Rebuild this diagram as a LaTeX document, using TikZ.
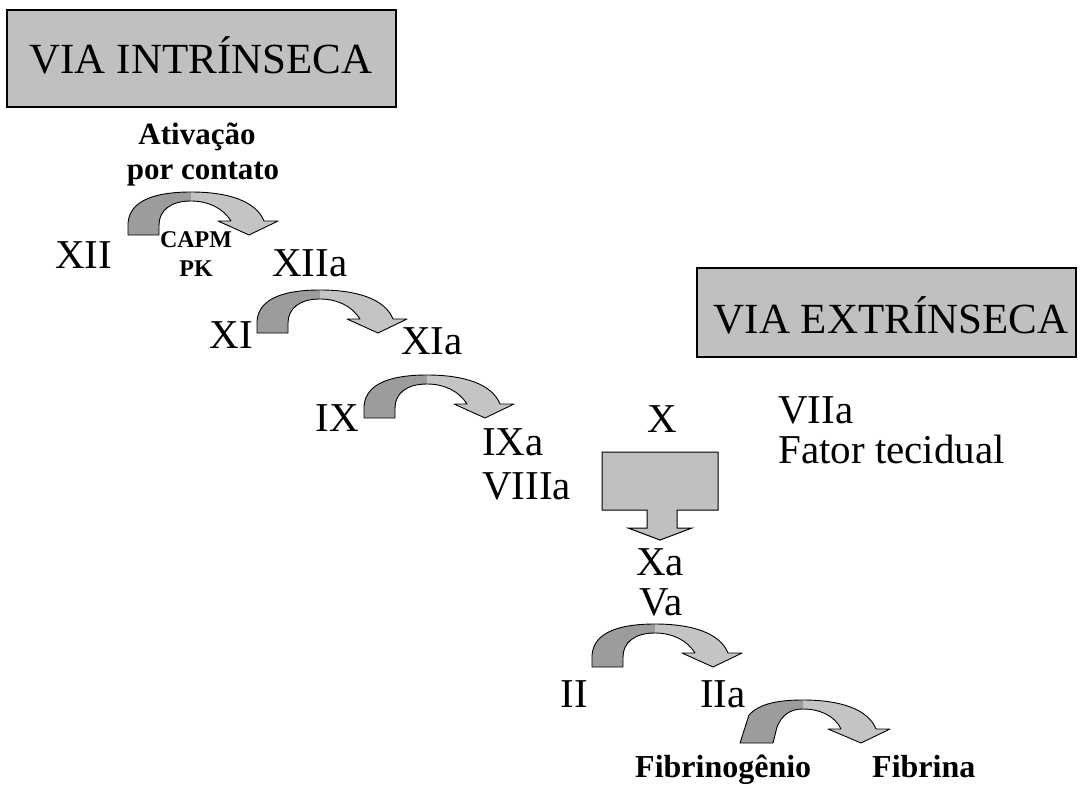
\documentclass[tikz,border=0pt]{standalone}
\usepackage{fontspec}
\setmainfont{Liberation Serif}
\newfontfamily\tnr{Liberation Serif}
\definecolor{boxgray}{HTML}{C0C0C0}
\definecolor{darkpart}{HTML}{9C9C9C}
\definecolor{lightpart}{HTML}{C4C4C4}
\tikzset{
  lbl/.style={font=\tnr\fontsize{41}{48}\selectfont, inner sep=0pt, anchor=base west},
  lble/.style={font=\tnr\fontsize{41}{48}\selectfont, inner sep=0pt, anchor=base east},
  lblc/.style={font=\tnr\fontsize{41}{48}\selectfont, inner sep=0pt, anchor=base},
  bl/.style={font=\tnr\bfseries\fontsize{32}{36}\selectfont, inner sep=0pt, anchor=base west},
  bla/.style={font=\tnr\bfseries\fontsize{31}{36}\selectfont, inner sep=0pt, anchor=base},
  sbl/.style={font=\tnr\bfseries\fontsize{24}{28}\selectfont, inner sep=0pt, anchor=base},
  titlebox/.style={draw=black, line width=1.5pt, fill=boxgray, inner sep=0pt},
  titletext/.style={font=\tnr\fontsize{43}{52}\selectfont, inner sep=0pt, anchor=base},
  outl/.style={draw=black, line width=0.9pt, line join=round},
  curvarrow/.pic={
    \fill[darkpart] (0,0) -- (0,-12) .. controls (2,-36) and (30,-43) .. (63,-43)
      -- (63,-34) .. controls (42,-34) and (31,-24) .. (31,-10) -- (31,0) -- cycle;
    \fill[lightpart] (63,-43) .. controls (100,-43) and (128,-34) .. (136,-14)
      -- (150,-14) -- (121,0) -- (90,-14) -- (103,-14)
      .. controls (95,-27) and (80,-34) .. (63,-34) -- cycle;
    \path[outl] (0,0) -- (0,-12) .. controls (2,-36) and (30,-43) .. (63,-43)
      .. controls (100,-43) and (128,-34) .. (136,-14)
      -- (150,-14) -- (121,0) -- (90,-14) -- (103,-14)
      .. controls (95,-27) and (80,-34) .. (63,-34)
      .. controls (42,-34) and (31,-24) .. (31,-10) -- (31,0) -- cycle;
  },
  slantarrow/.pic={
    \fill[darkpart] (0,0) -- (9,-28) .. controls (20,-40) and (40,-43) .. (63,-43)
      -- (63,-34) .. controls (50,-34) and (42,-28) .. (37,-16) -- (33,0) -- cycle;
    \fill[lightpart] (63,-43) .. controls (100,-43) and (128,-34) .. (136,-14)
      -- (150,-14) -- (121,0) -- (88,-14) -- (101,-14)
      .. controls (95,-27) and (80,-34) .. (63,-34) -- cycle;
    \path[outl] (0,0) -- (9,-28) .. controls (20,-40) and (40,-43) .. (63,-43)
      .. controls (100,-43) and (128,-34) .. (136,-14)
      -- (150,-14) -- (121,0) -- (88,-14) -- (101,-14)
      .. controls (95,-27) and (80,-34) .. (63,-34)
      .. controls (50,-34) and (42,-28) .. (37,-16) -- (33,0) -- cycle;
  }
}
\begin{document}
\begin{tikzpicture}[x=1pt,y=-1pt]
\useasboundingbox (0,0) rectangle (1081,789);

% title boxes
\node[titlebox, minimum width=389pt, minimum height=97pt] (intrbox) at (201.5,58.5) {};
\node[titletext] (intr) at (201,74) {VIA INTRÍNSECA};
\node[titlebox, minimum width=379pt, minimum height=89pt] (extrbox) at (886.5,312.5) {};
\node[titletext] (extr) at (891,333) {VIA EXTRÍNSECA};

% contact activation
\node[bla] (ativ) at (197,145) {Ativação};
\node[bla] (porc) at (203,179) {por contato};

% curved arrows
\pic (a1) at (128,235) {curvarrow};
\pic (a2) at (257,333) {curvarrow};
\pic (a3) at (364,418) {curvarrow};
\pic (a4) at (592,667) {curvarrow};
\pic (a5) at (740,743) {slantarrow};

\node[sbl] (capm) at (196,247) {CAPM};
\node[sbl] (pk) at (196,276) {PK};

% factors
\node[lbl] (xii) at (55,268) {XII};
\node[lbl] (xiia) at (272,276) {XIIa};
\node[lble] (xi) at (253,348) {XI};
\node[lbl] (xia) at (401,354) {XIa};
\node[lble] (ix) at (359,431) {IX};
\node[lbl] (ixa) at (482,455) {IXa};
\node[lbl] (viiia) at (482,499) {VIIIa};
\node[lblc] (x) at (662,432) {X};
\node[lbl] (viia) at (778,423) {VIIa};
\node[lbl] (ft) at (778,463) {Fator tecidual};
\node[lblc] (xa) at (660,575) {Xa};
\node[lblc] (va) at (661,615) {Va};
\node[lble] (ii) at (588,707) {II};
\node[lbl] (iia) at (700,707) {IIa};
\node[bl] (fgen) at (635,777) {Fibrinogênio};
\node[bl] (fib) at (872,777) {Fibrina};

% block arrow X -> Xa
\draw[line width=1pt, fill=boxgray, line join=miter]
  (602,452) -- (718,452) -- (718,510) -- (677,510) -- (677,528) -- (692,528)
  -- (660,540) -- (628,528) -- (647,528) -- (647,510) -- (602,510) -- cycle;
\end{tikzpicture}
\end{document}
